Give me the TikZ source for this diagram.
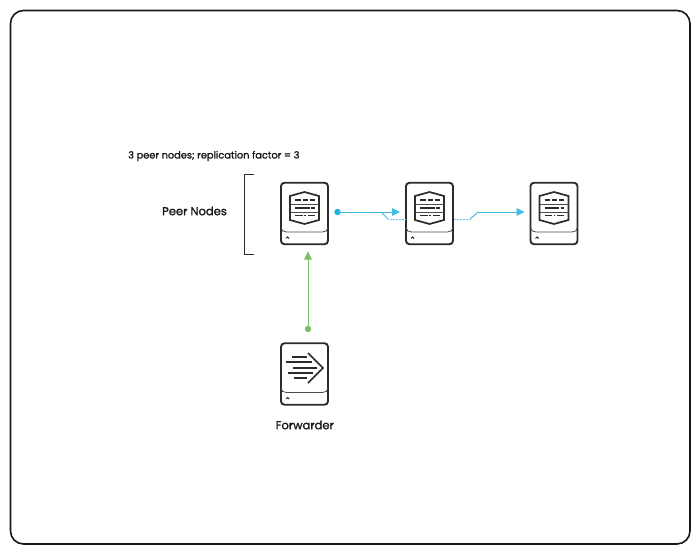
\documentclass[tikz,border=0pt]{standalone}
\usepackage{fontspec}
\setmainfont[FakeBold=1.5]{Poppins}
\usetikzlibrary{arrows.meta}
\definecolor{ink}{HTML}{2B2B2B}
\definecolor{cyanl}{HTML}{1DB0E0}
\definecolor{greenl}{HTML}{7ABF66}
\tikzset{
  x=1pt,y=-1pt,
  frame/.style={draw=black!90,line width=1.6pt,rounded corners=13pt},
  box/.style={draw=ink,line width=1.9pt,rounded corners=3.5pt,minimum width=47pt,minimum height=61.5pt,inner sep=0pt,fill=white},
  thin/.style={draw=ink!85,line width=0.8pt},
  ic/.style={draw=ink,line width=1.7pt,line join=miter},
  dash row/.style={draw=ink,line width=1.5pt},
  lab/.style={font=\fontsize{11.5}{14}\selectfont,text=black!90,inner sep=0pt},
  cyanline/.style={draw=cyanl!85,line width=0.95pt},
  cyandot/.style={draw=cyanl!70,line width=0.5pt,densely dotted},
  greenline/.style={draw=greenl,line width=0.8pt},
  tip/.style={-{Triangle[length=8pt,width=7.5pt]}},
}
\newcommand{\diskbase}[2]{% name, center
  \node[box] (#1) at (#2) {};
  \begin{scope}[shift={(#2)}]
    \draw[thin] (-23.5,14) .. controls (-23.5,17) and (-21,18.5) .. (-18,18.5) -- (18,18.5) .. controls (21,18.5) and (23.5,17) .. (23.5,14);
    \draw[ink,line width=1pt] (-18.5,25) arc[start angle=180,end angle=360,radius=1.6];
  \end{scope}
}
\newcommand{\peer}[2]{%
  \diskbase{#1}{#2}
  \begin{scope}[shift={(#2)}]
    \draw[ic] (0,-21.5) -- (14.5,-17.5) -- (14.5,6.5) -- (0,10.5) -- (-14.5,6.5) -- (-14.5,-17.5) -- cycle;
    \draw[thin] (-14.5,-9.5) -- (14.5,-9.5) (-14.5,-1.5) -- (14.5,-1.5);
    \draw[dash row] (-9.5,-13.3) -- (-4,-13.3) (-2,-13.3) -- (3,-13.3) (5,-13.3) -- (10,-13.3);
    \draw[dash row] (-9.5,-5.5) -- (5,-5.5) (6.5,-5.5) -- (10,-5.5);
    \draw[dash row] (-9.5,2.2) -- (-2,2.2) (-0.5,2.2) -- (1,2.2) (3,2.2) -- (10,2.2);
  \end{scope}
}
\newcommand{\forwarder}[2]{%
  \diskbase{#1}{#2}
  \begin{scope}[shift={(#2)}]
    \draw[ink,line width=1.5pt] (3.5,-21) -- (18.5,-6) -- (3.5,9);
    \draw[ink,line width=1.4pt] (-12.5,-17) -- (2.5,-17) (-18.5,-12) -- (7.5,-12) (-11.5,-6) -- (12.5,-6)
      (-16.5,-1) -- (8.5,-1) (-10.5,4) -- (2.5,4);
  \end{scope}
}
\begin{document}
\begin{tikzpicture}
\useasboundingbox (0,0) rectangle (700,554);
\fill[white] (0,0) rectangle (700,554);
\draw[frame] (10.5,10.5) rectangle (690,544);

\node[lab,anchor=west,font=\fontsize{9.8}{13}\selectfont] (cap) at (128,156) {3 peer nodes; replication factor = 3};
\node[lab,anchor=west] (pn) at (162,211) {Peer Nodes};
\node[lab,anchor=west] (fw) at (275.5,425) {Forwarder};

\coordinate (bt) at (253.5,174);
\coordinate (bb) at (253.5,254.5);
\draw[ink,line width=1pt] (bt) -- (244.5,174) -- (244.5,254.5) -- (bb);

\peer{p1}{304.5,213.5}
\peer{p2}{429.5,213.5}
\peer{p3}{554,213.5}
\forwarder{f}{304.5,374}

% blue connector 1
\coordinate (d1) at (337.5,212);
\coordinate (a1) at (400,212);
\coordinate (k1) at (381,212);
\coordinate (k2) at (388,219);
\coordinate (e2) at (p2.west|-k2);
\fill[cyanl] (d1) circle (3.2);
\draw[cyanline,tip] (d1) -- (a1);
\draw[cyanline] (k1) -- (k2);
\draw[cyandot] (k2) -- (e2);
% blue connector 2
\coordinate (s3) at (p2.east|-k2);
\coordinate (k3) at (470,219);
\coordinate (k4) at (478,212);
\coordinate (a2) at (524.5,212);
\draw[cyandot] (s3) -- (k3);
\draw[cyanline] (k3) -- (k4);
\draw[cyanline,tip] (k4) -- (a2);
% green connector
\coordinate (g1) at (308,329);
\coordinate (g2) at (308,251.5);
\fill[greenl] (g1) circle (3.2);
\draw[greenline,tip] (g1) -- (g2);
\end{tikzpicture}
\end{document}
